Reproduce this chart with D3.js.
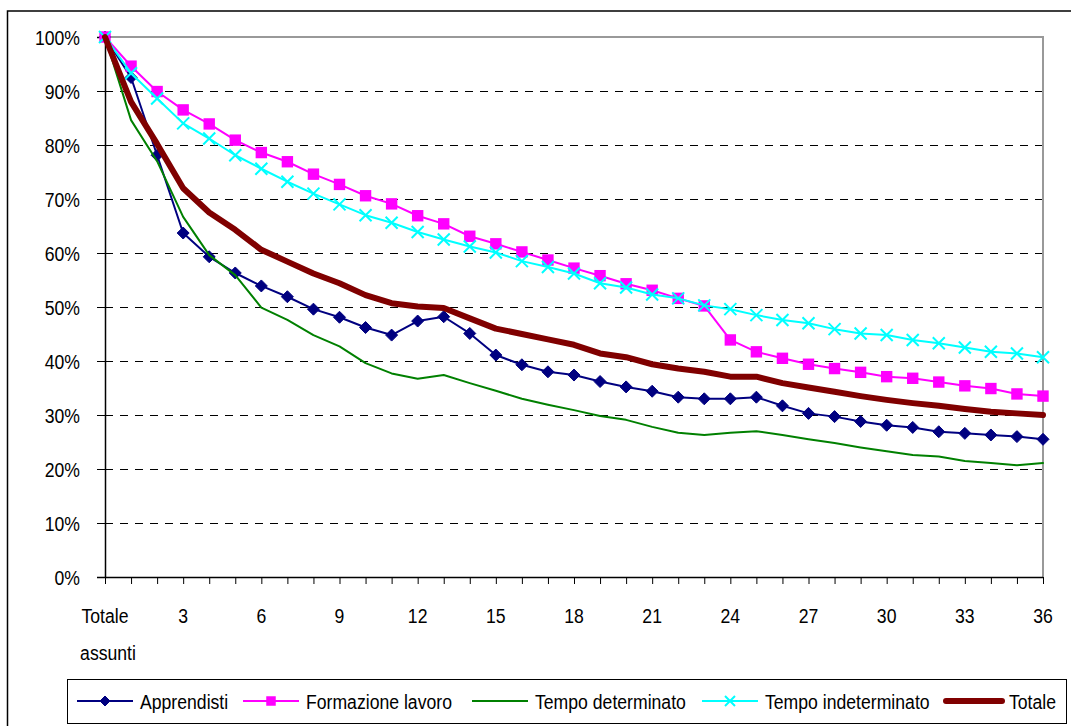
<!DOCTYPE html>
<html>
<head>
<meta charset="utf-8">
<script src="https://cdn.jsdelivr.net/npm/d3@7"></script>
<style>
  html, body { margin: 0; padding: 0; background: #fff; }
  svg text { font-family: "Liberation Sans", Arial, sans-serif; fill: #000; }
</style>
</head>
<body>
<svg id="chart" width="1071" height="726"></svg>
<script>
// Months since hiring (first point = all hired)
const categories = ["Totale assunti", "1", "2", "3", "4", "5", "6", "7", "8", "9", "10",
  "11", "12", "13", "14", "15", "16", "17", "18", "19", "20", "21", "22", "23", "24",
  "25", "26", "27", "28", "29", "30", "31", "32", "33", "34", "35", "36"];
const tickLabels = ["Totale", "3", "6", "9", "12", "15", "18", "21", "24", "27", "30", "33", "36"];
const tickIndexes = [0, 3, 6, 9, 12, 15, 18, 21, 24, 27, 30, 33, 36];
const yTicks = [0, 10, 20, 30, 40, 50, 60, 70, 80, 90, 100];

// Share of hired still employed (%)
const apprendisti = [100, 92.5, 78.1, 63.7, 59.3, 56.3, 53.9, 51.9, 49.6, 48.1, 46.2, 44.8, 47.4,
  48.2, 45.1, 41.1, 39.3, 38.0, 37.4, 36.2, 35.2, 34.4, 33.3, 33.0, 33.0, 33.3, 31.7, 30.3,
  29.7, 28.8, 28.1, 27.7, 26.9, 26.6, 26.3, 26.0, 25.5];
const formazioneLavoro = [100, 94.6, 89.9, 86.5, 83.9, 80.9, 78.6, 76.9, 74.6, 72.7, 70.6, 69.1,
  66.9, 65.4, 63.1, 61.7, 60.2, 58.7, 57.2, 55.8, 54.3, 53.1, 51.6, 50.2, 43.9, 41.7, 40.5,
  39.4, 38.6, 37.9, 37.1, 36.8, 36.1, 35.4, 34.9, 33.9, 33.5];
const tempoDeterminato = [100, 84.6, 77.0, 66.7, 59.6, 55.9, 49.9, 47.6, 44.8, 42.7, 39.6, 37.7,
  36.7, 37.4, 35.9, 34.5, 33.0, 31.9, 30.9, 29.8, 29.1, 27.8, 26.7, 26.3, 26.7, 27.0, 26.3,
  25.5, 24.8, 24.0, 23.3, 22.6, 22.3, 21.5, 21.1, 20.7, 21.1];
const tempoIndeterminato = [100, 93.3, 88.6, 84.0, 81.2, 78.1, 75.6, 73.2, 71.0, 69.0, 67.0, 65.6,
  63.9, 62.5, 61.2, 60.1, 58.5, 57.4, 56.2, 54.4, 53.6, 52.3, 51.6, 50.3, 49.6, 48.5, 47.6,
  47.0, 45.9, 45.1, 44.8, 43.9, 43.3, 42.5, 41.7, 41.4, 40.7];
const totale = [100, 88.0, 80.2, 72.0, 67.5, 64.3, 60.6, 58.4, 56.2, 54.4, 52.2, 50.7, 50.1,
  49.8, 47.9, 46.0, 45.0, 44.0, 43.0, 41.4, 40.7, 39.4, 38.6, 38.0, 37.1, 37.1, 35.9, 35.1,
  34.3, 33.5, 32.8, 32.2, 31.7, 31.1, 30.6, 30.3, 30.0];

const seriesNames = ["Apprendisti", "Formazione lavoro", "Tempo determinato", "Tempo indeterminato", "Totale"];
const series = [
  { name: seriesNames[0], values: apprendisti, color: "#000080", width: 2, marker: "diamond" },
  { name: seriesNames[1], values: formazioneLavoro, color: "#ff00ff", width: 2, marker: "square" },
  { name: seriesNames[2], values: tempoDeterminato, color: "#008000", width: 2, marker: null },
  { name: seriesNames[3], values: tempoIndeterminato, color: "#00ffff", width: 2, marker: "cross" },
  { name: seriesNames[4], values: totale, color: "#800000", width: 6, marker: null }
];

const svg = d3.select("#chart");
const plot = { left: 105, right: 1043, top: 37, bottom: 577 };
const sx = 0.84;  // condensed label face
const fs = 21;

const x = d3.scaleLinear().domain([0, categories.length - 1]).range([plot.left, plot.right]);
const y = d3.scaleLinear().domain([0, 100]).range([plot.bottom, plot.top]);

// outer chart frame
svg.append("rect").attr("x", 7.5).attr("y", 11).attr("width", 1100).attr("height", 800)
  .attr("fill", "none").attr("stroke", "#000").attr("stroke-width", 1.5);

// dashed gridlines
svg.append("g").selectAll("line").data(yTicks.filter(d => d > 0 && d < 100)).join("line")
  .attr("x1", plot.left).attr("x2", plot.right)
  .attr("y1", d => Math.round(y(d)) + 0.5).attr("y2", d => Math.round(y(d)) + 0.5)
  .attr("stroke", "#000").attr("stroke-width", 1).attr("stroke-dasharray", "8,7");

// plot-area border on top and right
svg.append("path")
  .attr("d", `M${plot.left},${plot.top} H${plot.right} V${plot.bottom}`)
  .attr("fill", "none").attr("stroke", "#999").attr("stroke-width", 2);

// y axis
const yAxis = d3.axisLeft(y).tickValues(yTicks).tickSize(8).tickFormat(d => d + "%");
const gy = svg.append("g").attr("transform", `translate(${plot.left},0)`).call(yAxis);
gy.select(".domain").attr("stroke", "#000").attr("stroke-width", 1.5);
gy.selectAll(".tick line").attr("stroke", "#000").attr("stroke-width", 1);
gy.selectAll(".tick text").attr("x", 0).attr("dy", null).attr("dominant-baseline", "central")
  .attr("font-size", fs).attr("text-anchor", "end")
  .attr("transform", `translate(-25,0) scale(${sx},1)`);

// x axis: tick at each month, labels every third month
const xAxis = d3.axisBottom(x).tickValues(d3.range(categories.length)).tickSize(7)
  .tickFormat(() => "");
const gx = svg.append("g").attr("transform", `translate(0,${plot.bottom})`).call(xAxis);
gx.select(".domain").attr("stroke", "#000").attr("stroke-width", 1.5)
  .attr("d", `M${plot.left},0.5H${plot.right}`);
gx.selectAll(".tick line").attr("stroke", "#000").attr("stroke-width", 1);

const xl = svg.append("g");
tickIndexes.forEach((idx, k) => {
  xl.append("text")
    .attr("transform", `translate(${x(idx)},623) scale(${sx},1)`)
    .attr("text-anchor", "middle").attr("font-size", fs)
    .text(tickLabels[k]);
});
xl.append("text")
  .attr("transform", `translate(${x(0) + 3},660) scale(${sx},1)`)
  .attr("text-anchor", "middle").attr("font-size", fs)
  .text(categories[0].split(" ")[1]);

// markers
function drawMarker(g, type, cx, cy, color, s) {
  if (type === "diamond") {
    g.append("path").attr("d", `M${cx},${cy - s} L${cx + s},${cy} L${cx},${cy + s} L${cx - s},${cy} Z`)
      .attr("fill", color).attr("stroke", color).attr("stroke-width", 1);
  } else if (type === "square") {
    g.append("rect").attr("x", cx - s * 0.95).attr("y", cy - s * 0.95)
      .attr("width", s * 1.9).attr("height", s * 1.9).attr("fill", color);
  } else if (type === "cross") {
    const c = s;
    g.append("path").attr("d", `M${cx - c},${cy - c} L${cx + c},${cy + c} M${cx - c},${cy + c} L${cx + c},${cy - c}`)
      .attr("stroke", color).attr("stroke-width", 2).attr("fill", "none");
  }
}

const line = d3.line().x((d, i) => x(i)).y(d => y(d));
series.forEach(s => {
  const g = svg.append("g");
  g.append("path").datum(s.values).attr("d", line)
    .attr("fill", "none").attr("stroke", s.color).attr("stroke-width", s.width)
    .attr("stroke-linejoin", "round").attr("stroke-linecap", "round");
  if (s.marker) {
    s.values.forEach((v, i) => drawMarker(g, s.marker, x(i), y(v), s.color, 6));
  }
});

// legend
const legend = svg.append("g");
legend.append("rect").attr("x", 67.5).attr("y", 679.5).attr("width", 999).attr("height", 44)
  .attr("fill", "#fff").attr("stroke", "#000").attr("stroke-width", 1);
const legendX = [77, 243, 472, 702, 946];
series.forEach((s, k) => {
  const lx = legendX[k], ly = 701;
  legend.append("line").attr("x1", lx).attr("x2", lx + 56).attr("y1", ly).attr("y2", ly)
    .attr("stroke", s.color).attr("stroke-width", s.width).attr("stroke-linecap", s.width > 3 ? "round" : "butt");
  if (s.marker) drawMarker(legend, s.marker, lx + 28, ly, s.color, 5);
  legend.append("text")
    .attr("transform", `translate(${lx + 63},${ly + 8}) scale(${sx},1)`)
    .attr("font-size", fs).text(s.name);
});
</script>
</body>
</html>
